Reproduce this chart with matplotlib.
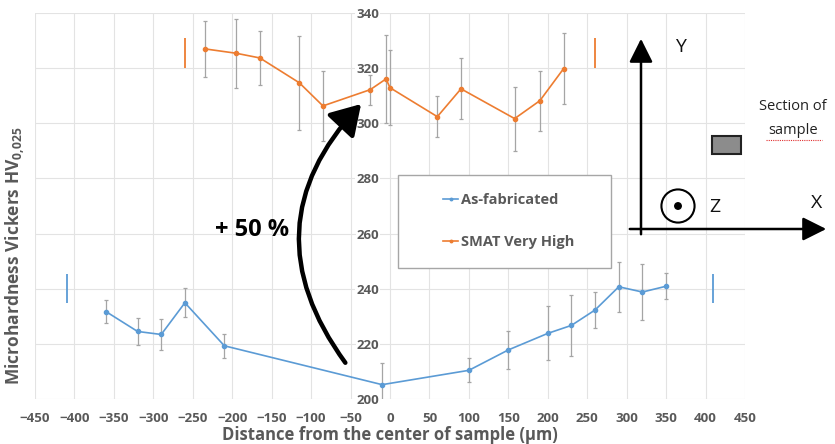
import matplotlib
matplotlib.use('Agg')
import matplotlib.pyplot as plt
from matplotlib.patches import Rectangle, Circle, FancyArrowPatch
import numpy as np

plt.rcParams['font.family'] = ['Open Sans', 'DejaVu Sans']
plt.rcParams['font.weight'] = 'bold'
plt.rcParams['mathtext.fontset'] = 'custom'
plt.rcParams['mathtext.rm'] = 'Open Sans:bold'
plt.rcParams['mathtext.bf'] = 'Open Sans:bold'

# As-fabricated
asfab_x = [-360, -320, -290, -260, -210, -10, 100, 150, 200, 230, 260, 290, 320, 350]
asfab_y = [231.7, 224.5, 223.4, 234.9, 219.3, 205.2, 210.4, 217.8, 223.8, 226.7, 232.3, 240.7, 238.8, 240.9]
asfab_err = [4.1, 4.9, 5.6, 5.2, 4.4, 7.7, 4.4, 6.9, 9.8, 11.1, 6.6, 9.0, 10.0, 4.8]

# SMAT Very High
smat_x = [-235, -195, -165, -115, -85, -25, -5, 0, 60, 90, 158, 190, 220]
smat_y = [327.0, 325.4, 323.7, 314.7, 306.3, 312.2, 316.1, 312.9, 302.4, 312.5, 301.7, 308.2, 319.8]
smat_err = [10.2, 12.5, 9.8, 17.1, 12.6, 5.4, 16.1, 13.6, 7.4, 11.1, 11.6, 10.9, 12.8]

# sample edge marks
asfab_edge_x = [-410, 410]
asfab_edge_lo, asfab_edge_hi = 235, 245.5
smat_edge_x = [-260, 260]
smat_edge_lo, smat_edge_hi = 320, 331

x_ticks = np.arange(-450, 451, 50)
y_ticks = np.arange(200, 341, 20)

blue = '#5B9BD5'
orange = '#ED7D31'
grey_txt = '#595959'

fig = plt.figure(figsize=(8.35, 4.44), dpi=100)
ax = fig.add_axes([35/835, 1-399/444, 710/835, 386/444])

ax.errorbar(asfab_x, asfab_y, yerr=asfab_err, fmt='none', ecolor='#A5A5A5',
            elinewidth=0.9, capsize=1.5, capthick=0.9, zorder=2)
ax.errorbar(smat_x, smat_y, yerr=smat_err, fmt='none', ecolor='#A5A5A5',
            elinewidth=0.9, capsize=1.5, capthick=0.9, zorder=2)
ax.plot(asfab_x, asfab_y, '-o', color=blue, lw=1.2, ms=3, label='As-fabricated', zorder=3)
ax.plot(smat_x, smat_y, '-o', color=orange, lw=1.2, ms=3, label='SMAT Very High', zorder=3)
ax.vlines(asfab_edge_x, asfab_edge_lo, asfab_edge_hi, colors=blue, lw=1.3)
ax.vlines(smat_edge_x, smat_edge_lo, smat_edge_hi, colors=orange, lw=1.3)

ax.set_xlim(-450, 450)
ax.set_ylim(200, 340)
ax.set_xticks(x_ticks)
ax.set_yticks(y_ticks)
ax.grid(True, color='#E3E3E3', lw=0.8, zorder=0)
for s in ax.spines.values():
    s.set_visible(False)
ax.spines['left'].set_position(('data', 0))
ax.tick_params(axis='both', length=0, labelsize=9.5, labelcolor=grey_txt)
ax.tick_params(axis='x', pad=9)
ax.tick_params(axis='y', pad=8)
for lab in ax.get_yticklabels():
    lab.set_bbox(dict(facecolor='white', edgecolor='none', pad=0.5))

fig.text(390/835, 1-435/444, 'Distance from the center of sample (µm)', ha='center', va='center',
         fontsize=12, color=grey_txt)
fig.text(15/835, 1-256/444, r'Microhardness Vickers HV$_{\mathrm{0{,}025}}$', rotation=90,
         ha='center', va='center', fontsize=12.5, color=grey_txt)

# legend box
ax.add_artist(Rectangle((398/835, 1-268/444), 213/835, 93/444, transform=fig.transFigure,
                        facecolor='white', edgecolor='#A6A6A6', lw=1.0, zorder=4))
leg = ax.legend(loc='upper left', bbox_to_anchor=(436/835, 1-186/444),
                bbox_transform=fig.transFigure, frameon=False, fontsize=10.5,
                handlelength=1.0, handletextpad=0.2, labelspacing=1.9, borderpad=0,
                markerscale=0.6)
leg.set_zorder(5)
for t in leg.get_texts():
    t.set_color(grey_txt)

# curved arrow and label
arrow = FancyArrowPatch((347/835, 1-365/444), (363/835, 1-102/444), transform=fig.transFigure,
                        connectionstyle='arc3,rad=-0.42',
                        arrowstyle='-|>,head_length=0.9,head_width=0.55',
                        mutation_scale=20, lw=3.2, color='black', zorder=6)
fig.patches.append(arrow)
fig.text(252/835, 1-230/444, '+ 50 %', ha='center', va='center', fontsize=17, color='black')

# coordinate sketch
ax.add_artist(Rectangle((634/835, 1-68/444), 78/835, 55/444, transform=fig.transFigure,
                        facecolor='white', edgecolor='none', zorder=1))
fig.patches.append(FancyArrowPatch((641/835, 1-237/444), (641/835, 1-36/444),
                                   transform=fig.transFigure, arrowstyle='-|>,head_length=0.8,head_width=0.4',
                                   mutation_scale=18, lw=1.8, color='black', zorder=6))
fig.patches.append(FancyArrowPatch((627/835, 1-229/444), (829/835, 1-229/444),
                                   transform=fig.transFigure, arrowstyle='-|>,head_length=0.8,head_width=0.4',
                                   mutation_scale=18, lw=1.8, color='black', zorder=6))
for lbl, px, py in [('Y', 680, 47), ('X', 817, 203), ('Z', 715, 207)]:
    fig.text(px/835, 1-py/444, lbl, ha='center', va='center', fontsize=14,
             fontweight='normal', color='#111111')
ax_c = fig.add_axes([660/835, 1-224/444, 36/835, 36/444])
ax_c.set_xlim(-1, 1)
ax_c.set_ylim(-1, 1)
ax_c.set_aspect('equal')
ax_c.axis('off')
ax_c.add_patch(Circle((0, 0), 0.92, facecolor='none', edgecolor='black', lw=1.5))
ax_c.add_patch(Circle((0, 0), 0.22, facecolor='black', edgecolor='none'))
fig.patches.append(Rectangle((712/835, 1-154/444), 29/835, 18/444, transform=fig.transFigure,
                             facecolor='#8C8C8C', edgecolor='#222222', lw=1.5, zorder=6))
fig.text(793/835, 1-107/444, 'Section of', ha='center', va='center', fontsize=10.5,
         fontweight='normal', color='#222222')
fig.text(793/835, 1-131/444, 'sample', ha='center', va='center', fontsize=10.5,
         fontweight='normal', color='#222222')
fig.lines.append(plt.Line2D([766/835, 822/835], [1-140/444, 1-140/444], transform=fig.transFigure,
                            color='#E03030', lw=0.8, ls=(0, (1, 1))))

fig.savefig('out.png', dpi=100)
